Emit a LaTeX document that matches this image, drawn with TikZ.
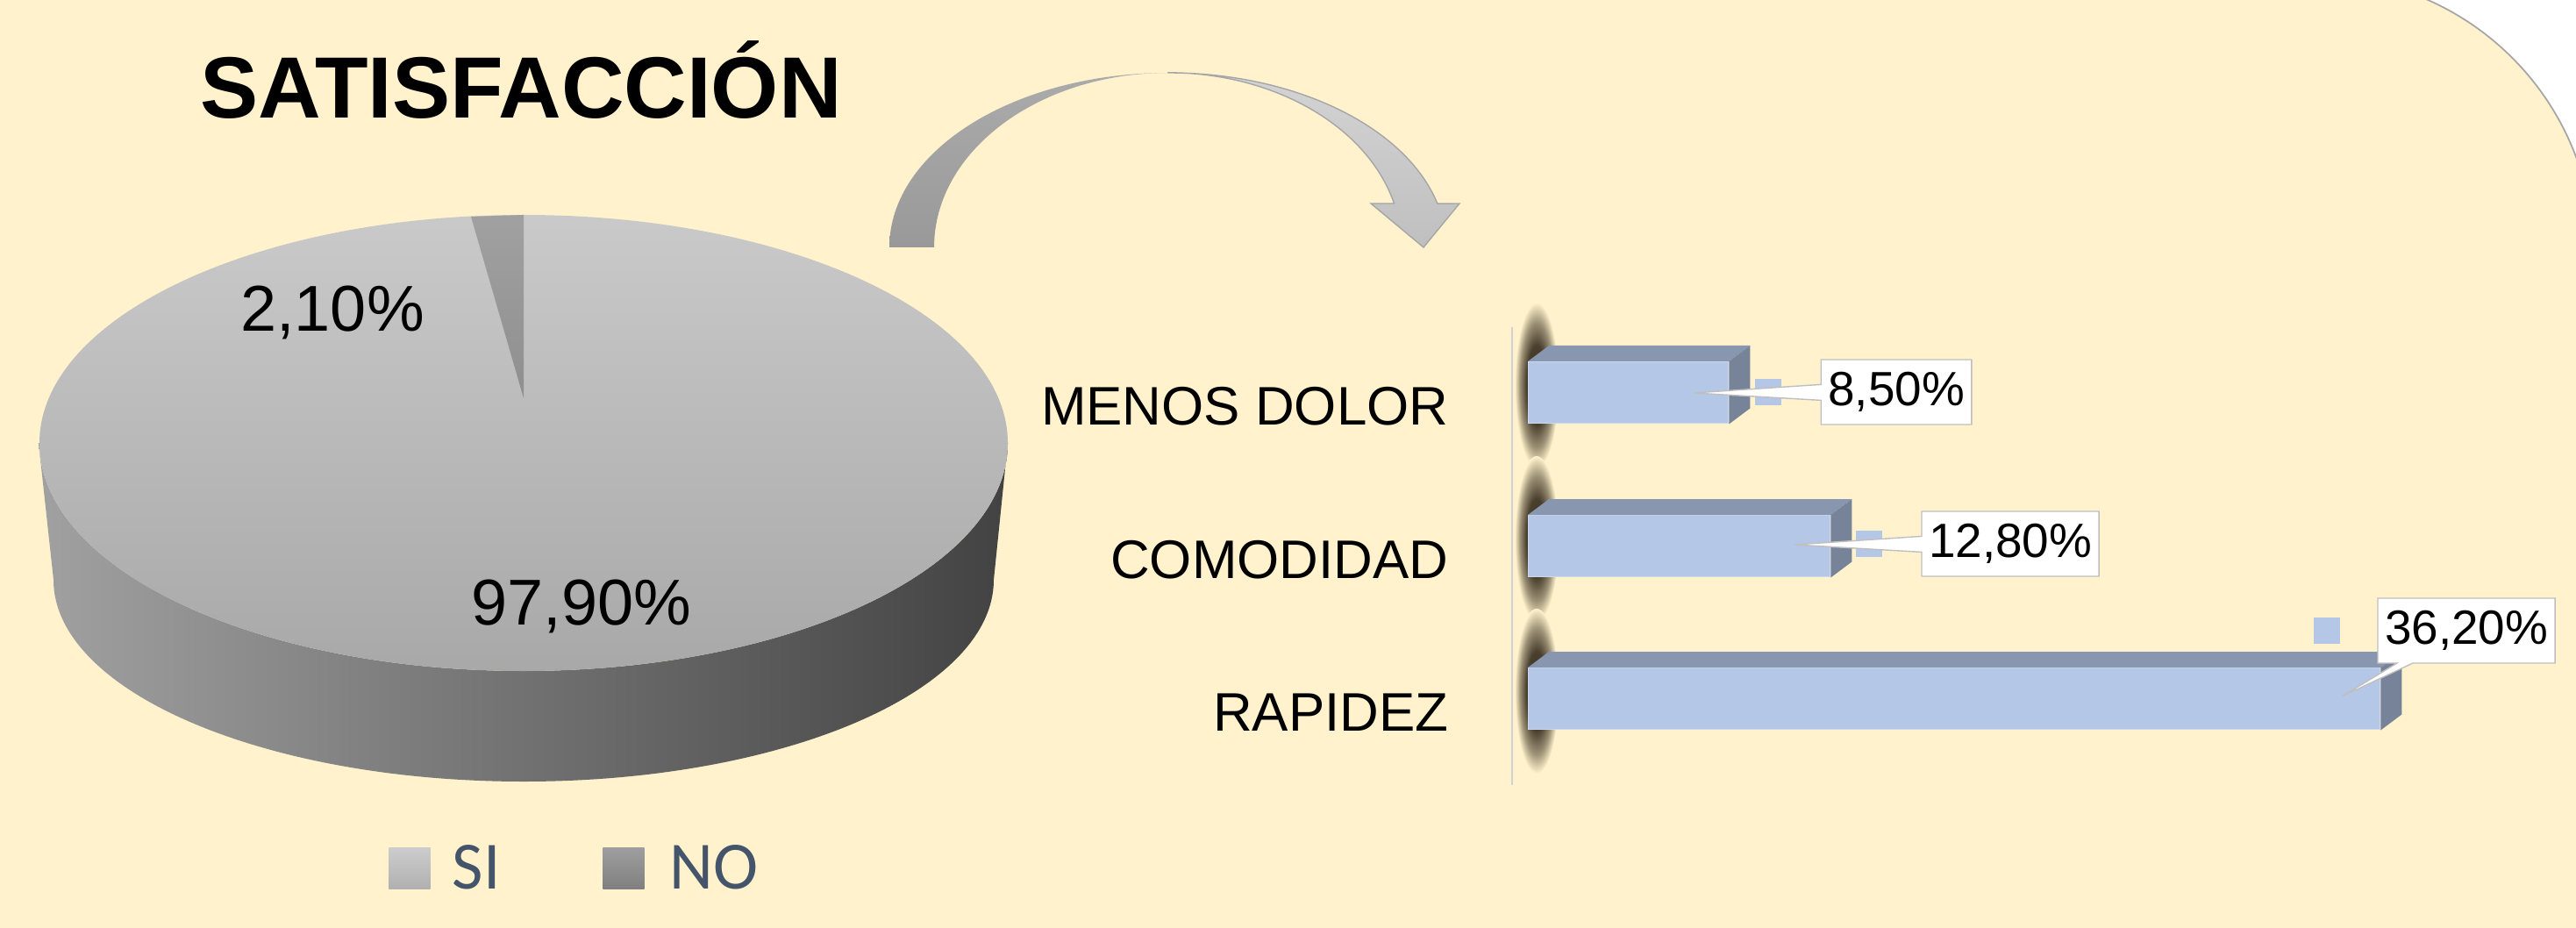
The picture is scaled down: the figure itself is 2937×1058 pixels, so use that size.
\documentclass[tikz,border=0pt]{standalone}
\usepackage{fontspec}
\setmainfont{Liberation Sans}
\newfontfamily\legfont{Carlito}
\usetikzlibrary{calc,shapes.callouts}
\definecolor{cream}{HTML}{FFF2CC}
\definecolor{rimgray}{HTML}{A6A6A6}
\definecolor{barfront}{HTML}{B4C7E7}
\definecolor{bartop}{HTML}{8897AF}
\definecolor{barside}{HTML}{768398}
\definecolor{legtext}{HTML}{44546A}
\definecolor{shadowc}{HTML}{3A3020}
\pgfdeclareradialshading{barshadow}{\pgfpoint{0bp}{0bp}}{color(0bp)=(shadowc); color(12bp)=(shadowc!92!cream);
    color(19bp)=(shadowc!50!cream); color(25bp)=(cream); color(50bp)=(cream)}
\begin{document}
\begin{tikzpicture}[x=0.01cm, y=-0.01cm,
    txt/.style={inner sep=0pt},
    barbox/.style={draw=barfront!70!white, fill=barfront, inner sep=0pt, minimum height=0.7cm, anchor=north west},
    lbl/.style={rectangle callout, draw=black!25, fill=white, inner xsep=0.08cm, minimum height=0.74cm,
                callout pointer width=0.18cm, font=\fontsize{15.6}{18}\selectfont},
    keysq/.style={fill=barfront, minimum size=0.3cm, inner sep=0pt},
    legsq/.style={minimum size=0.47cm, inner sep=0pt}]

            \useasboundingbox (0,0) rectangle (2937,1058);
            \fill[white] (0,0) rectangle (2937,1058);
            \filldraw[fill=cream, draw=rimgray, line width=0.5pt] (-10,1070) -- (-10,-27) -- (2640,-27)
                arc[start angle=270, end angle=360, radius=317] -- (2957,1070) -- cycle;

            % Title
            \node[txt, anchor=base west, font=\bfseries\fontsize{28.2}{30}\selectfont] (title) at (228,135) {SATISFACCIÓN};

            % Pie
            \shade[left color=black!37, middle color=black!58, right color=black!74]
                (44,505) -- (61,661) arc[start angle=180, end angle=0, x radius=536, y radius=230]
                -- (1149,505) arc[start angle=0, end angle=180, x radius=552, y radius=260] -- cycle;
            \shade[top color=black!21, bottom color=black!34] (597,505) ellipse[x radius=552, y radius=260];
            \shade[top color=black!37, bottom color=black!44] (597,454) -- (597,245) -- (537,247) -- cycle;
            \node[txt, anchor=base, font=\fontsize{21}{24}\selectfont] (pNO) at (379,377) {2,10\%};
            \node[txt, anchor=base, font=\fontsize{21}{24}\selectfont] (pSI) at (663,712) {97,90\%};

            % Legend
            \node[legsq, top color=black!20, bottom color=black!31] (sqSI) at (467,990) {};
            \node[txt, anchor=base west, text=legtext, font=\legfont\fontsize{21.9}{24}\selectfont] (tSI) at (515,1013) {SI};
            \node[legsq, top color=black!38, bottom color=black!50] (sqNO) at (711,990) {};
            \node[txt, anchor=base west, text=legtext, font=\legfont\fontsize{21.9}{24}\selectfont] (tNO) at (763,1013) {NO};

            % Curved arrow
            \shade[top color=black!33, bottom color=black!40] (1014,282)
                arc[start angle=180, end angle=270, x radius=318, y radius=199]
                arc[start angle=270, end angle=180, x radius=267, y radius=199] -- cycle;
            \shade[top color=black!17, bottom color=black!25, draw=rimgray, line width=0.4pt] (1332,83)
                arc[start angle=270, end angle=345.5, x radius=317, y radius=199]
                -- (1664,232) -- (1623,282) -- (1563,232) -- (1589.5,232)
                arc[start angle=345.5, end angle=270, x radius=266, y radius=199] -- cycle;

            % Bars
            \coordinate (axtop) at (1724,373);
            \coordinate (axbot) at (1724,895);
            \draw[black!18, line width=0.6pt] (axtop) -- (axbot);
            \foreach \n/\y/\w/\name in {A/412/228/MENOS DOLOR, B/587/344/COMODIDAD, C/761/971/RAPIDEZ} {
                \shade[shading=barshadow] (1752,\y+27) ellipse[x radius=25, y radius=94];
                \node[barbox, minimum width=\w*0.01cm] (bar\n) at (1742,\y) {};
                \fill[bartop] (bar\n.north west) -- ++(24,-18) -- ($(bar\n.north east)+(24,-18)$) -- (bar\n.north east) -- cycle;
                \fill[barside] (bar\n.north east) -- ++(24,-18) -- ($(bar\n.south east)+(24,-18)$) -- (bar\n.south east) -- cycle;
                \node[txt, anchor=base east, font=\fontsize{17.6}{20}\selectfont] (cat\n) at (1652,\y+72) {\name};
            }

            % Data labels
            \coordinate (tipA) at (1931,448);
            \coordinate (tipB) at (2046,621);
            \coordinate (tipC) at (2670,794);
            \node[keysq] (keyA) at (2016,447) {};
            \node[keysq] (keyB) at (2131,620) {};
            \node[keysq] (keyC) at (2653,719) {};
            \node[lbl, callout absolute pointer={(tipA)}] (lblA) at (2162,447) {8,50\%};
            \node[lbl, callout absolute pointer={(tipB)}] (lblB) at (2292,620) {12,80\%};
            \node[lbl, callout absolute pointer={(tipC)}] (lblC) at (2812,719) {36,20\%};
          \end{tikzpicture}
\end{document}
